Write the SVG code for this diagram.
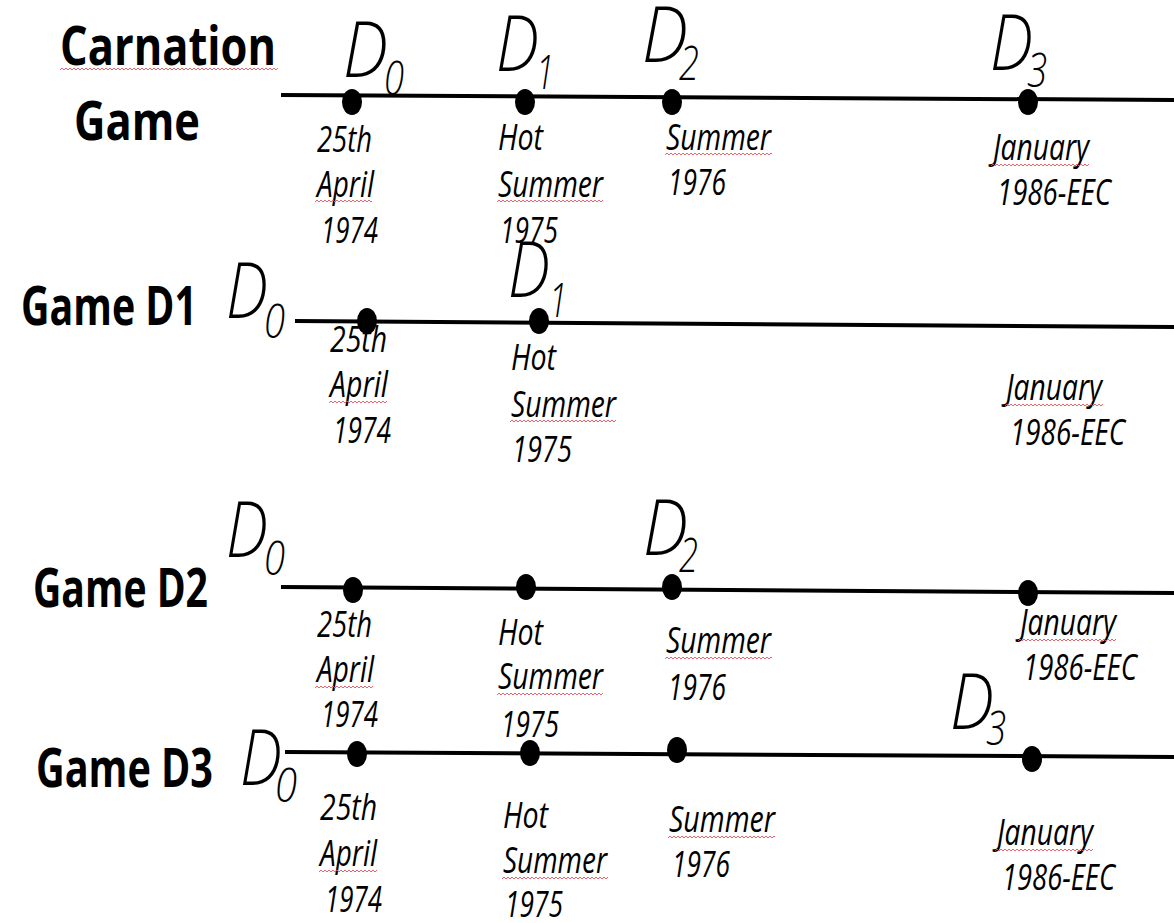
<svg xmlns="http://www.w3.org/2000/svg" width="1174" height="923" viewBox="0 0 1174 923">
  <defs>
    <!-- red spell-check squiggle -->
    <pattern id="squiggle" width="4" height="4" patternUnits="userSpaceOnUse">
      <path d="M0,3 L2,1 L4,3" fill="none" stroke="#e8505a" stroke-width="0.9"/>
    </pattern>
  </defs>
  <style>
    .title { font-family: "Open Sans", "Liberation Sans", sans-serif; font-weight: bold; font-size: 53px; fill: #000; }
    .lbl { font-family: "Open Sans", "Liberation Sans", sans-serif; font-style: italic; font-weight: 400; font-size: 36px; fill: #000; }
    .dname { font-family: "Open Sans", "Liberation Sans", sans-serif; font-style: italic; font-weight: 300; font-size: 78px; fill: #000; }
    .dsub { font-family: "Open Sans", "Liberation Sans", sans-serif; font-style: italic; font-weight: 300; font-size: 47px; fill: #000; }
    .axis { stroke: #000; stroke-width: 4; fill: none; }
    .dot { fill: #000; }
    .sq { fill: url(#squiggle); }
  </style>
  <rect width="1174" height="923" fill="#fff"/>

  <!-- timelines -->
  <g id="connectors">
    <line class="axis" x1="281" y1="95" x2="1174" y2="100"/>
    <line class="axis" x1="295" y1="321" x2="1174" y2="327"/>
    <line class="axis" x1="281" y1="587" x2="1174" y2="593"/>
    <line class="axis" x1="285" y1="752" x2="1174" y2="757"/>
  </g>

  <!-- Carnation Game -->
  <g id="row-carnation">
    <text class="title" x="60" y="65" textLength="216" lengthAdjust="spacingAndGlyphs">Carnation</text>
    <rect class="sq" width="218" height="4" transform="translate(60,67)"/>
    <text class="title" x="74" y="140" textLength="126" lengthAdjust="spacingAndGlyphs">Game</text>
  </g>
  <g id="c-d0">
    <ellipse class="dot" cx="352" cy="102" rx="10" ry="13"/>
    <text class="dname" x="343" y="77" textLength="45" lengthAdjust="spacingAndGlyphs">D</text>
    <text class="dsub" x="384" y="95" textLength="20" lengthAdjust="spacingAndGlyphs">0</text>
    <text class="lbl" x="317" y="152" textLength="55" lengthAdjust="spacingAndGlyphs">25th</text>
    <text class="lbl" x="317" y="197" textLength="57" lengthAdjust="spacingAndGlyphs">April</text>
    <rect class="sq" width="57" height="4" transform="translate(315,199)"/>
    <text class="lbl" x="321" y="243" textLength="57" lengthAdjust="spacingAndGlyphs">1974</text>
  </g>
  <g id="c-d1">
    <ellipse class="dot" cx="525" cy="102" rx="10" ry="13"/>
    <text class="dname" x="496" y="71" textLength="43" lengthAdjust="spacingAndGlyphs">D</text>
    <text class="dsub" x="536" y="89" textLength="18" lengthAdjust="spacingAndGlyphs">1</text>
    <text class="lbl" x="498" y="150" textLength="45" lengthAdjust="spacingAndGlyphs">Hot</text>
    <text class="lbl" x="498" y="197" textLength="105" lengthAdjust="spacingAndGlyphs">Summer</text>
    <rect class="sq" width="106" height="4" transform="translate(497,199)"/>
    <text class="lbl" x="500" y="243" textLength="58" lengthAdjust="spacingAndGlyphs">1975</text>
  </g>
  <g id="c-d2">
    <ellipse class="dot" cx="672" cy="102" rx="10" ry="13"/>
    <text class="dname" x="642" y="62" textLength="46" lengthAdjust="spacingAndGlyphs">D</text>
    <text class="dsub" x="679" y="80" textLength="20" lengthAdjust="spacingAndGlyphs">2</text>
    <text class="lbl" x="666" y="150" textLength="105" lengthAdjust="spacingAndGlyphs">Summer</text>
    <rect class="sq" width="107" height="4" transform="translate(665,152)"/>
    <text class="lbl" x="668" y="195" textLength="58" lengthAdjust="spacingAndGlyphs">1976</text>
  </g>
  <g id="c-d3">
    <ellipse class="dot" cx="1028" cy="102" rx="10" ry="13"/>
    <text class="dname" x="990" y="70" textLength="43" lengthAdjust="spacingAndGlyphs">D</text>
    <text class="dsub" x="1027" y="87" textLength="20" lengthAdjust="spacingAndGlyphs">3</text>
    <text class="lbl" x="993" y="160" textLength="96" lengthAdjust="spacingAndGlyphs">January</text>
    <rect class="sq" width="98" height="4" transform="translate(991,163)"/>
    <text class="lbl" x="997" y="205" textLength="114" lengthAdjust="spacingAndGlyphs">1986-EEC</text>
  </g>

  <!-- Game D1 -->
  <g id="row-d1">
    <text class="title" x="21" y="325" textLength="176" lengthAdjust="spacingAndGlyphs">Game D1</text>
    <text class="dname" x="226" y="318" textLength="42" lengthAdjust="spacingAndGlyphs">D</text>
    <text class="dsub" x="264" y="338" textLength="21" lengthAdjust="spacingAndGlyphs">0</text>
  </g>
  <g id="d1-p0">
    <ellipse class="dot" cx="367" cy="321" rx="10" ry="13"/>
    <text class="lbl" x="330" y="352" textLength="57" lengthAdjust="spacingAndGlyphs">25th</text>
    <text class="lbl" x="330" y="397" textLength="58" lengthAdjust="spacingAndGlyphs">April</text>
    <rect class="sq" width="58" height="4" transform="translate(329,400)"/>
    <text class="lbl" x="333" y="443" textLength="58" lengthAdjust="spacingAndGlyphs">1974</text>
  </g>
  <g id="d1-p1">
    <ellipse class="dot" cx="539" cy="321" rx="10" ry="13"/>
    <text class="dname" x="508" y="297" textLength="42" lengthAdjust="spacingAndGlyphs">D</text>
    <text class="dsub" x="549" y="317" textLength="18" lengthAdjust="spacingAndGlyphs">1</text>
    <text class="lbl" x="511" y="370" textLength="45" lengthAdjust="spacingAndGlyphs">Hot</text>
    <text class="lbl" x="511" y="417" textLength="105" lengthAdjust="spacingAndGlyphs">Summer</text>
    <rect class="sq" width="106" height="4" transform="translate(510,419)"/>
    <text class="lbl" x="512" y="462" textLength="60" lengthAdjust="spacingAndGlyphs">1975</text>
  </g>
  <g id="d1-p3">
    <text class="lbl" x="1006" y="400" textLength="96" lengthAdjust="spacingAndGlyphs">January</text>
    <rect class="sq" width="98" height="4" transform="translate(1005,403)"/>
    <text class="lbl" x="1010" y="445" textLength="115" lengthAdjust="spacingAndGlyphs">1986-EEC</text>
  </g>

  <!-- Game D2 -->
  <g id="row-d2">
    <text class="title" x="33" y="607" textLength="175" lengthAdjust="spacingAndGlyphs">Game D2</text>
    <text class="dname" x="226" y="557" textLength="42" lengthAdjust="spacingAndGlyphs">D</text>
    <text class="dsub" x="264" y="575" textLength="21" lengthAdjust="spacingAndGlyphs">0</text>
  </g>
  <g id="d2-p0">
    <ellipse class="dot" cx="353" cy="590" rx="10" ry="13"/>
    <text class="lbl" x="317" y="637" textLength="55" lengthAdjust="spacingAndGlyphs">25th</text>
    <text class="lbl" x="317" y="682" textLength="57" lengthAdjust="spacingAndGlyphs">April</text>
    <rect class="sq" width="58" height="4" transform="translate(315,685)"/>
    <text class="lbl" x="321" y="727" textLength="57" lengthAdjust="spacingAndGlyphs">1974</text>
  </g>
  <g id="d2-p1">
    <ellipse class="dot" cx="526" cy="587" rx="10" ry="13"/>
    <text class="lbl" x="498" y="645" textLength="45" lengthAdjust="spacingAndGlyphs">Hot</text>
    <text class="lbl" x="498" y="689" textLength="105" lengthAdjust="spacingAndGlyphs">Summer</text>
    <rect class="sq" width="106" height="4" transform="translate(497,692)"/>
    <text class="lbl" x="501" y="737" textLength="58" lengthAdjust="spacingAndGlyphs">1975</text>
  </g>
  <g id="d2-p2">
    <ellipse class="dot" cx="672" cy="587" rx="10" ry="13"/>
    <text class="dname" x="643" y="555" textLength="45" lengthAdjust="spacingAndGlyphs">D</text>
    <text class="dsub" x="679" y="572" textLength="19" lengthAdjust="spacingAndGlyphs">2</text>
    <text class="lbl" x="666" y="653" textLength="105" lengthAdjust="spacingAndGlyphs">Summer</text>
    <rect class="sq" width="107" height="4" transform="translate(665,656)"/>
    <text class="lbl" x="668" y="700" textLength="58" lengthAdjust="spacingAndGlyphs">1976</text>
  </g>
  <g id="d2-p3">
    <ellipse class="dot" cx="1028" cy="593" rx="10" ry="13"/>
    <text class="lbl" x="1020" y="635" textLength="96" lengthAdjust="spacingAndGlyphs">January</text>
    <rect class="sq" width="98" height="4" transform="translate(1018,638)"/>
    <text class="lbl" x="1023" y="680" textLength="114" lengthAdjust="spacingAndGlyphs">1986-EEC</text>
  </g>

  <!-- Game D3 -->
  <g id="row-d3">
    <text class="title" x="36" y="787" textLength="177" lengthAdjust="spacingAndGlyphs">Game D3</text>
    <text class="dname" x="240" y="785" textLength="42" lengthAdjust="spacingAndGlyphs">D</text>
    <text class="dsub" x="275" y="802" textLength="22" lengthAdjust="spacingAndGlyphs">0</text>
  </g>
  <g id="d3-p0">
    <ellipse class="dot" cx="357" cy="754" rx="10" ry="13"/>
    <text class="lbl" x="320" y="820" textLength="57" lengthAdjust="spacingAndGlyphs">25th</text>
    <text class="lbl" x="320" y="866" textLength="57" lengthAdjust="spacingAndGlyphs">April</text>
    <rect class="sq" width="58" height="4" transform="translate(319,869)"/>
    <text class="lbl" x="325" y="912" textLength="57" lengthAdjust="spacingAndGlyphs">1974</text>
  </g>
  <g id="d3-p1">
    <ellipse class="dot" cx="530" cy="753" rx="10" ry="13"/>
    <text class="lbl" x="503" y="828" textLength="45" lengthAdjust="spacingAndGlyphs">Hot</text>
    <text class="lbl" x="503" y="873" textLength="104" lengthAdjust="spacingAndGlyphs">Summer</text>
    <rect class="sq" width="106" height="4" transform="translate(502,876)"/>
    <text class="lbl" x="505" y="917" textLength="58" lengthAdjust="spacingAndGlyphs">1975</text>
  </g>
  <g id="d3-p2">
    <ellipse class="dot" cx="677" cy="750" rx="10" ry="13"/>
    <text class="lbl" x="669" y="832" textLength="106" lengthAdjust="spacingAndGlyphs">Summer</text>
    <rect class="sq" width="107" height="4" transform="translate(668,835)"/>
    <text class="lbl" x="672" y="877" textLength="58" lengthAdjust="spacingAndGlyphs">1976</text>
  </g>
  <g id="d3-p3">
    <ellipse class="dot" cx="1032" cy="759" rx="10" ry="13"/>
    <text class="dname" x="950" y="729" textLength="44" lengthAdjust="spacingAndGlyphs">D</text>
    <text class="dsub" x="986" y="745" textLength="20" lengthAdjust="spacingAndGlyphs">3</text>
    <text class="lbl" x="997" y="845" textLength="96" lengthAdjust="spacingAndGlyphs">January</text>
    <rect class="sq" width="98" height="4" transform="translate(995,848)"/>
    <text class="lbl" x="1002" y="890" textLength="113" lengthAdjust="spacingAndGlyphs">1986-EEC</text>
  </g>
</svg>
